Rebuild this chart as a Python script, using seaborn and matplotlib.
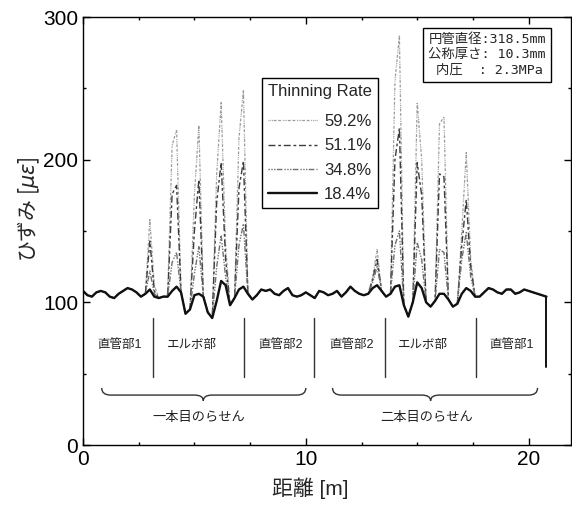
import numpy as np
import pandas as pd
import matplotlib
matplotlib.use("Agg")
import matplotlib.pyplot as plt
from matplotlib.path import Path
from matplotlib.patches import PathPatch
from matplotlib.ticker import MultipleLocator
import seaborn as sns

# distance along the pipe [m]
distance = [
    0.0, 0.2, 0.4, 0.6, 0.8, 1.0, 1.2, 1.4, 1.6, 1.8, 2.0, 2.2, 2.4, 2.6, 2.8,
    3.0, 3.2, 3.4, 3.6, 3.8, 4.0, 4.2, 4.4, 4.6, 4.8, 5.0, 5.2, 5.4, 5.6, 5.8,
    6.0, 6.2, 6.4, 6.6, 6.8, 7.0, 7.2, 7.4, 7.6, 7.8, 8.0, 8.2, 8.4, 8.6, 8.8,
    9.0, 9.2, 9.4, 9.6, 9.8, 10.0, 10.2, 10.4, 10.6, 10.8, 11.0, 11.2, 11.4, 11.6, 11.8,
    12.0, 12.2, 12.4, 12.6, 12.8, 13.0, 13.2, 13.4, 13.6, 13.8, 14.0, 14.2, 14.4, 14.6, 14.8,
    15.0, 15.2, 15.4, 15.6, 15.8, 16.0, 16.2, 16.4, 16.6, 16.8, 17.0, 17.2, 17.4, 17.6, 17.8,
    18.0, 18.2, 18.4, 18.6, 18.8, 19.0, 19.2, 19.4, 19.6, 19.8, 20.0, 20.2, 20.4, 20.6, 20.8,
]

# strain [micro strain] for each thinning rate
strain_592 = [
    108, 105, 104, 107, 108, 107, 104, 103, 106, 108, 110, 109, 107, 104, 106,
    158, 112, 103, 104, 106, 210, 221, 108, 92, 95, 175, 224, 106, 93, 89,
    190, 240, 140, 98, 103, 215, 249, 108, 102, 105, 109, 108, 109, 106, 105,
    108, 110, 105, 104, 105, 107, 105, 103, 108, 107, 105, 106, 108, 104, 107,
    111, 108, 106, 105, 106, 118, 137, 108, 104, 106, 255, 287, 98, 90, 100,
    240, 200, 100, 97, 101, 225, 230, 102, 97, 99, 150, 205, 130, 104, 104,
    107, 110, 109, 107, 106, 109, 109, 106, 107, 109, 108, 107, 106, 105, 104,
]
strain_511 = [
    108, 105, 104, 107, 108, 107, 104, 103, 106, 108, 110, 109, 107, 104, 106,
    143, 108, 103, 104, 104, 176, 182, 107, 92, 95, 150, 186, 104, 93, 89,
    170, 198, 130, 98, 103, 180, 199, 106, 102, 105, 109, 108, 109, 106, 105,
    108, 110, 105, 104, 105, 107, 105, 103, 108, 107, 105, 106, 108, 104, 107,
    111, 108, 106, 105, 106, 116, 130, 108, 104, 106, 200, 222, 98, 90, 100,
    198, 175, 100, 97, 101, 190, 188, 102, 97, 99, 140, 172, 125, 104, 104,
    107, 110, 109, 107, 106, 109, 109, 106, 107, 109, 108, 107, 106, 105, 104,
]
strain_348 = [
    108, 105, 104, 107, 108, 107, 104, 103, 106, 108, 110, 109, 107, 104, 106,
    122, 106, 103, 104, 104, 128, 135, 107, 92, 95, 120, 139, 104, 93, 89,
    125, 147, 118, 98, 103, 140, 155, 106, 102, 105, 109, 108, 109, 106, 105,
    108, 110, 105, 104, 105, 107, 105, 103, 108, 107, 105, 106, 108, 104, 107,
    111, 108, 106, 105, 106, 114, 125, 108, 104, 106, 140, 150, 98, 90, 100,
    142, 130, 100, 97, 101, 137, 135, 102, 97, 99, 130, 149, 118, 104, 104,
    107, 110, 109, 107, 106, 109, 109, 106, 107, 109, 108, 107, 106, 105, 104,
]
strain_184 = [
    108, 105, 104, 107, 108, 107, 104, 103, 106, 108, 110, 109, 107, 104, 106,
    109, 104, 103, 104, 104, 108, 111, 107, 92, 95, 105, 106, 104, 93, 89,
    101, 115, 112, 98, 103, 109, 111, 106, 102, 105, 109, 108, 109, 106, 105,
    108, 110, 105, 104, 105, 107, 105, 103, 108, 107, 105, 106, 108, 104, 107,
    111, 108, 106, 105, 106, 110, 112, 108, 104, 106, 111, 112, 98, 90, 100,
    114, 110, 100, 97, 101, 106, 106, 102, 97, 99, 106, 110, 108, 104, 104,
    107, 110, 109, 107, 106, 109, 109, 106, 107, 109, 108, 107, 106, 105, 104,
]

rates = ["59.2%", "51.1%", "34.8%", "18.4%"]

# pipe sections
section_names = ["直管部1", "エルボ部", "直管部2", "直管部2", "エルボ部", "直管部1"]
section_mid = [1.66, 4.9, 8.88, 12.07, 15.25, 19.22]
section_borders = [3.13, 7.22, 10.36, 13.54, 17.62]
pipe_end = 20.8
spiral_names = ["一本目のらせん", "二本目のらせん"]
spiral_start = [0.84, 11.2]
spiral_end = [10.0, 20.4]
spiral_mid = [5.4, 15.6]

info_text = "円管直径:318.5mm\n公称厚さ: 10.3mm\n 内圧  : 2.3MPa"

df = pd.DataFrame({
    "dist": distance * 4,
    "strain": strain_592 + strain_511 + strain_348 + strain_184,
    "rate": np.repeat(rates, len(distance)),
})

sns.set_style("ticks")
plt.rcParams["font.family"] = ["Liberation Sans", "Noto Sans CJK JP"]
plt.rcParams["mathtext.fontset"] = "dejavusans"

fig = plt.figure(figsize=(5.72, 5.05), dpi=100)
ax = fig.add_axes([0.1451, 0.1188, 0.8531, 0.8475])

palette = {"59.2%": "#9a9a9a", "51.1%": "#3c3c3c", "34.8%": "#707070", "18.4%": "#111111"}
dashes = {
    "59.2%": (0.7, 0.7, 0.7, 0.7, 0.7, 0.7, 2.2, 1.4, 2.2, 1.4),
    "51.1%": (5, 2, 2, 2),
    "34.8%": (1, 1, 1, 1, 1, 1, 4, 1.5),
    "18.4%": "",
}
sns.lineplot(data=df, x="dist", y="strain", hue="rate", style="rate",
             hue_order=rates, style_order=rates, palette=palette, dashes=dashes,
             sort=False, estimator=None, legend=False, ax=ax)
widths = [0.9, 1.0, 1.0, 1.7]
for line, lw in zip(ax.lines, widths):
    line.set_linewidth(lw)

handles = ax.lines[:4]
leg = ax.legend(handles, rates, title="Thinning Rate", loc="upper left",
                bbox_to_anchor=(0.367, 0.857), fontsize=12, title_fontsize=12,
                frameon=True, fancybox=False, framealpha=1, edgecolor="black",
                handlelength=2.9, handletextpad=0.45, labelspacing=0.55,
                borderpad=0.35, borderaxespad=0)
leg.get_frame().set_linewidth(1.0)
leg._legend_box.sep = 11  # a bit more room under the title

# section borders and labels
txt_col = "#222222"
for b in section_borders:
    ax.plot([b, b], [48, 89], color="#333333", lw=1.0)
ax.plot([pipe_end, pipe_end], [55, strain_184[-1]], color="#111111", lw=1.4)
for name, xm in zip(section_names, section_mid):
    ax.text(xm, 70, name, ha="center", va="center", fontsize=9, color=txt_col)

# curly braces under each spiral
for name, x0, x1, xm in zip(spiral_names, spiral_start, spiral_end, spiral_mid):
    yt, yb, ytip, r = 40, 35, 31, 0.4
    verts = [(x0, yt), (x0, yb), (x0 + r, yb), (xm - r, yb), (xm, yb), (xm, ytip),
             (xm, yb), (xm + r, yb), (x1 - r, yb), (x1, yb), (x1, yt)]
    codes = [Path.MOVETO, Path.CURVE3, Path.CURVE3, Path.LINETO, Path.CURVE3, Path.CURVE3,
             Path.CURVE3, Path.CURVE3, Path.LINETO, Path.CURVE3, Path.CURVE3]
    ax.add_patch(PathPatch(Path(verts, codes), fill=False, lw=1.0, color="#333333"))
    ax.text(xm - 0.2, 19, name, ha="center", va="center", fontsize=9.5, color=txt_col)

ax.text(0.708, 0.962, info_text, transform=ax.transAxes, ha="left", va="top",
        fontsize=9.6, family=["DejaVu Sans Mono", "Noto Sans CJK JP"], linespacing=1.2,
        bbox=dict(boxstyle="square,pad=0.4", fc="white", ec="black", lw=1.0))

ax.set_xlim(0, 21.9)
ax.set_ylim(0, 300)
ax.xaxis.set_major_locator(MultipleLocator(10))
ax.xaxis.set_minor_locator(MultipleLocator(2.5))
ax.yaxis.set_major_locator(MultipleLocator(100))
ax.yaxis.set_minor_locator(MultipleLocator(50))
ax.tick_params(which="both", direction="in", top=True, right=True, colors="black",
               labelsize=15, width=1.0)
ax.tick_params(which="major", length=5)
ax.tick_params(which="minor", length=2.5)
for s in ax.spines.values():
    s.set_color("black")
    s.set_linewidth(1.0)

ax.set_xlabel("距離 [m]", fontsize=15)
# mathtext takes its plain glyphs from the first family only, so give it the CJK one
ax.set_ylabel("ひずみ [$\\mu\\varepsilon$]", fontsize=15, family="Noto Sans CJK JP")
ax.xaxis.set_label_coords(0.465, -0.075)
ax.yaxis.set_label_coords(-0.085, 0.55)

fig.savefig("out.png", dpi=100)
